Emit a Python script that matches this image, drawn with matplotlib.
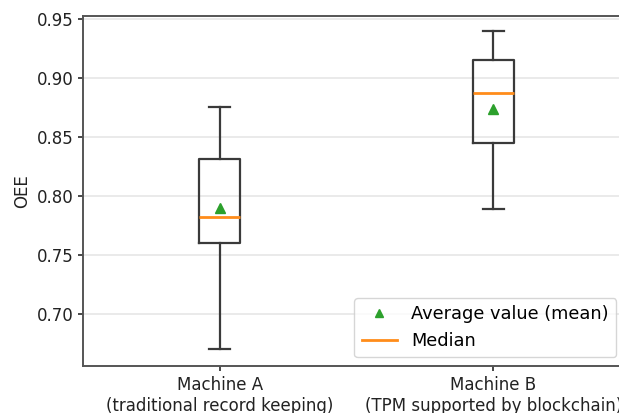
import matplotlib.pyplot as plt
from matplotlib.lines import Line2D

labels = ['Machine A\n(traditional record keeping)', 'Machine B\n(TPM supported by blockchain)']
whislo = [0.670, 0.789]
q1 = [0.760, 0.845]
med = [0.782, 0.887]
q3 = [0.831, 0.915]
whishi = [0.875, 0.940]
means = [0.790, 0.874]

stats = []
for i in range(len(labels)):
    stats.append({'label': labels[i], 'whislo': whislo[i], 'q1': q1[i], 'med': med[i],
                  'q3': q3[i], 'whishi': whishi[i], 'mean': means[i], 'fliers': []})

fig = plt.figure(figsize=(6.19, 4.13), dpi=100)
# axes runs past the right edge like the cropped original
ax = fig.add_axes([83 / 619, 1 - 366 / 413, (630 - 83) / 619, (366 - 16) / 413])

lc = '#3a3a3a'
ax.bxp(stats, showmeans=True,
       boxprops=dict(color=lc, linewidth=1.6),
       whiskerprops=dict(color=lc, linewidth=1.6),
       capprops=dict(color=lc, linewidth=1.6),
       medianprops=dict(color='#ff8c1a', linewidth=2),
       meanprops=dict(marker='^', markerfacecolor='#2ca02c', markeredgecolor='#2ca02c', markersize=7))
ax.set_ylim(0.656, 0.9525)
ax.set_xlim(0.5, 2.5)
ax.yaxis.grid(True, color='#e6e6e6', linewidth=1.2)
ax.set_axisbelow(True)
ax.set_ylabel('OEE', fontsize=12, color='#222222')
ax.tick_params(labelsize=12, color=lc, width=1.3, labelcolor='#222222')
for s in ax.spines.values():
    s.set_color('#555555')
    s.set_linewidth(1.4)

handles = [Line2D([], [], marker='^', color='#2ca02c', linestyle='None', markersize=6),
           Line2D([], [], color='#ff8c1a', linewidth=2)]
ax.legend(handles, ['Average value (mean)', 'Median'], loc='lower right',
          bbox_to_anchor=(1 - 5 / 547, 0), fontsize=12.8)

fig.savefig('out.png', dpi=100)
